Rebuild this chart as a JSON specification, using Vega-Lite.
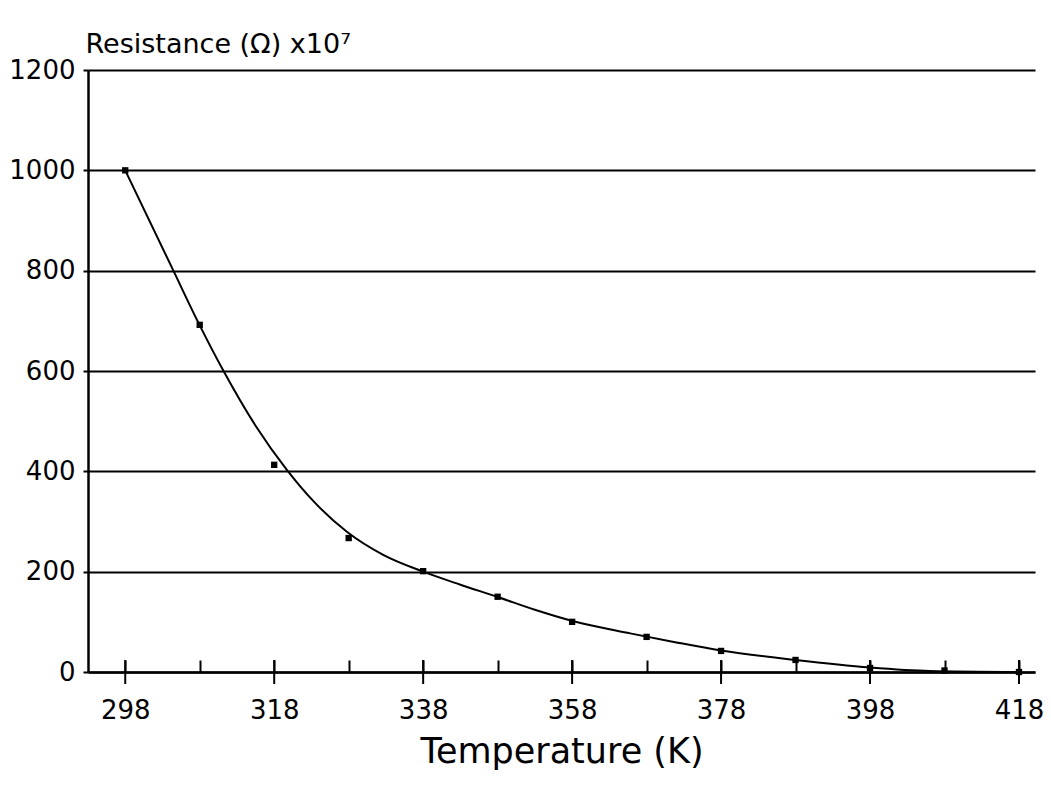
{
  "$schema": "https://vega.github.io/schema/vega-lite/v6.json",
  "width": 947,
  "height": 602,
  "autosize": {"type": "none"},
  "padding": {"left": 88, "top": 70, "right": 16, "bottom": 114},
  "background": "white",
  "config": {
    "view": {"stroke": null},
    "font": "DejaVu Sans"
  },
  "datasets": {
    "points": [
      {"T": 298, "R": 1000},
      {"T": 308, "R": 692},
      {"T": 318, "R": 413},
      {"T": 328, "R": 267},
      {"T": 338, "R": 201},
      {"T": 348, "R": 150},
      {"T": 358, "R": 100},
      {"T": 368, "R": 70},
      {"T": 378, "R": 42},
      {"T": 388, "R": 24},
      {"T": 398, "R": 8},
      {"T": 408, "R": 3},
      {"T": 418, "R": 0}
    ],
    "curve": [
      {"T": 298, "R": 1000},
      {"T": 304.4, "R": 802},
      {"T": 307.8, "R": 697},
      {"T": 311.2, "R": 600},
      {"T": 315.5, "R": 491},
      {"T": 319.7, "R": 403},
      {"T": 323.3, "R": 340},
      {"T": 327.8, "R": 279},
      {"T": 332.7, "R": 233},
      {"T": 338, "R": 200},
      {"T": 343, "R": 174},
      {"T": 347.9, "R": 150},
      {"T": 353, "R": 124},
      {"T": 358.2, "R": 101},
      {"T": 365.8, "R": 77},
      {"T": 372, "R": 59},
      {"T": 378, "R": 43},
      {"T": 388, "R": 24},
      {"T": 398, "R": 9},
      {"T": 406, "R": 2},
      {"T": 418, "R": 0}
    ],
    "majors": [
      {"T": 298}, {"T": 318}, {"T": 338}, {"T": 358}, {"T": 378}, {"T": 398}, {"T": 418}
    ]
  },
  "layer": [
    {
      "data": {"name": "curve"},
      "mark": {"type": "line", "interpolate": "monotone", "color": "black", "strokeWidth": 2},
      "encoding": {
        "x": {
          "field": "T", "type": "quantitative",
          "scale": {"domain": [293, 420.15], "nice": false, "zero": false},
          "axis": {
            "values": [298, 308, 318, 328, 338, 348, 358, 368, 378, 388, 398, 408, 418],
            "labelExpr": "(datum.value - 298) % 20 == 0 ? datum.label : ''",
            "format": "d",
            "tickSize": -12,
            "tickWidth": 2,
            "tickColor": "black",
            "domainColor": "black",
            "domainWidth": 2.5,
            "grid": false,
            "labelFont": "DejaVu Sans",
            "labelFontSize": 26,
            "labelColor": "black",
            "labelPadding": 37,
            "labelFlush": false,
            "title": "Temperature (K)",
            "titleFont": "DejaVu Sans",
            "titleFontSize": 35,
            "titleFontWeight": "normal",
            "titleColor": "black",
            "titlePadding": 11
          }
        },
        "y": {
          "field": "R", "type": "quantitative",
          "scale": {"domain": [0, 1200], "nice": false},
          "axis": {
            "values": [0, 200, 400, 600, 800, 1000, 1200],
            "format": "d",
            "tickSize": 5,
            "tickWidth": 2,
            "tickColor": "black",
            "domainColor": "black",
            "domainWidth": 2.5,
            "grid": true,
            "gridColor": "black",
            "gridWidth": 2,
            "gridOpacity": 1,
            "labelFont": "DejaVu Sans",
            "labelFontSize": 26,
            "labelColor": "black",
            "labelPadding": 8,
            "labelFlush": false,
            "title": "Resistance (Ω) x10⁷",
            "titleFont": "DejaVu Sans",
            "titleFontSize": 27,
            "titleFontWeight": "normal",
            "titleColor": "black",
            "titleAngle": 0,
            "titleAlign": "left",
            "titleBaseline": "alphabetic",
            "titleX": -3,
            "titleY": -18
          }
        }
      }
    },
    {
      "data": {"name": "points"},
      "mark": {"type": "square", "color": "black", "size": 40, "opacity": 1},
      "encoding": {
        "x": {"field": "T", "type": "quantitative"},
        "y": {"field": "R", "type": "quantitative"}
      }
    },
    {
      "data": {"name": "majors"},
      "mark": {"type": "tick", "orient": "vertical", "color": "black", "size": 24, "thickness": 2, "opacity": 1},
      "encoding": {
        "x": {"field": "T", "type": "quantitative"},
        "y": {"datum": 0, "type": "quantitative"}
      }
    }
  ]
}
